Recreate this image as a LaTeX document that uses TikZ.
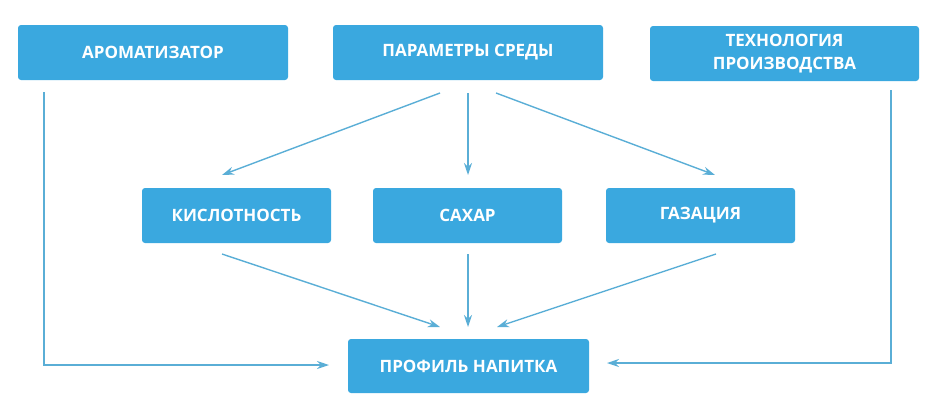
\documentclass[tikz,border=0pt]{standalone}
\usepackage{fontspec}
\setmainfont{Open Sans}
\usetikzlibrary{arrows.meta}
\definecolor{boxblue}{HTML}{3AA8DF}
\definecolor{lineblue}{HTML}{5AAED6}
\tikzset{
  box/.style={draw=none, fill=boxblue, rounded corners=3pt, text=white,
    font=\fontsize{17}{23}\selectfont\bfseries, align=center, inner sep=0pt},
  conn/.style={draw=lineblue, line width=1.4pt, -{Stealth[length=12pt,width=8pt]}},
}
\begin{document}
\begin{tikzpicture}[x=1pt,y=-1pt]
\useasboundingbox (0,0) rectangle (940,413);
\node[box, minimum width=270pt, minimum height=55pt] (aroma) at (153,52.5) {АРОМАТИЗАТОР};
\node[box, minimum width=270pt, minimum height=55pt] (param) at (468,52.5) {ПАРАМЕТРЫ СРЕДЫ};
\node[box, minimum width=269pt, minimum height=55pt] (tech) at (784.5,53.5) {ТЕХНОЛОГИЯ\\ПРОИЗВОДСТВА};
\node[box, minimum width=189pt, minimum height=55pt] (kisl) at (236.5,215.5) {КИСЛОТНОСТЬ};
\node[box, minimum width=189pt, minimum height=55pt] (sahar) at (467.5,215.5) {САХАР};
\node[box, minimum width=189pt, minimum height=55pt] (gaz) at (700.5,215.5) {ГАЗАЦИЯ};
\node[box, minimum width=241pt, minimum height=54pt] (prof) at (468.5,366) {ПРОФИЛЬ НАПИТКА};
% endpoints
\coordinate (pL) at (440,93);
\coordinate (pM) at (468,93);
\coordinate (pR) at (496,93);
\coordinate (kIn) at (222,175);
\coordinate (sIn) at (468,175);
\coordinate (gIn) at (715,175);
\coordinate (kOut) at (222,254);
\coordinate (sOut) at (468,254);
\coordinate (gOut) at (716,254);
\coordinate (fL) at (440,327);
\coordinate (fM) at (468,327);
\coordinate (fR) at (497,327);
\coordinate (aOut) at (44,92);
\coordinate (tOut) at (891,90);
\coordinate (fW) at (329,365);
\coordinate (fE) at (607,363);
\draw[conn] (pL) -- (kIn);
\draw[conn] (pM) -- (sIn);
\draw[conn] (pR) -- (gIn);
\draw[conn] (kOut) -- (fL);
\draw[conn] (sOut) -- (fM);
\draw[conn] (gOut) -- (fR);
\draw[conn] (aOut) |- (fW);
\draw[conn] (tOut) |- (fE);
\end{tikzpicture}
\end{document}
